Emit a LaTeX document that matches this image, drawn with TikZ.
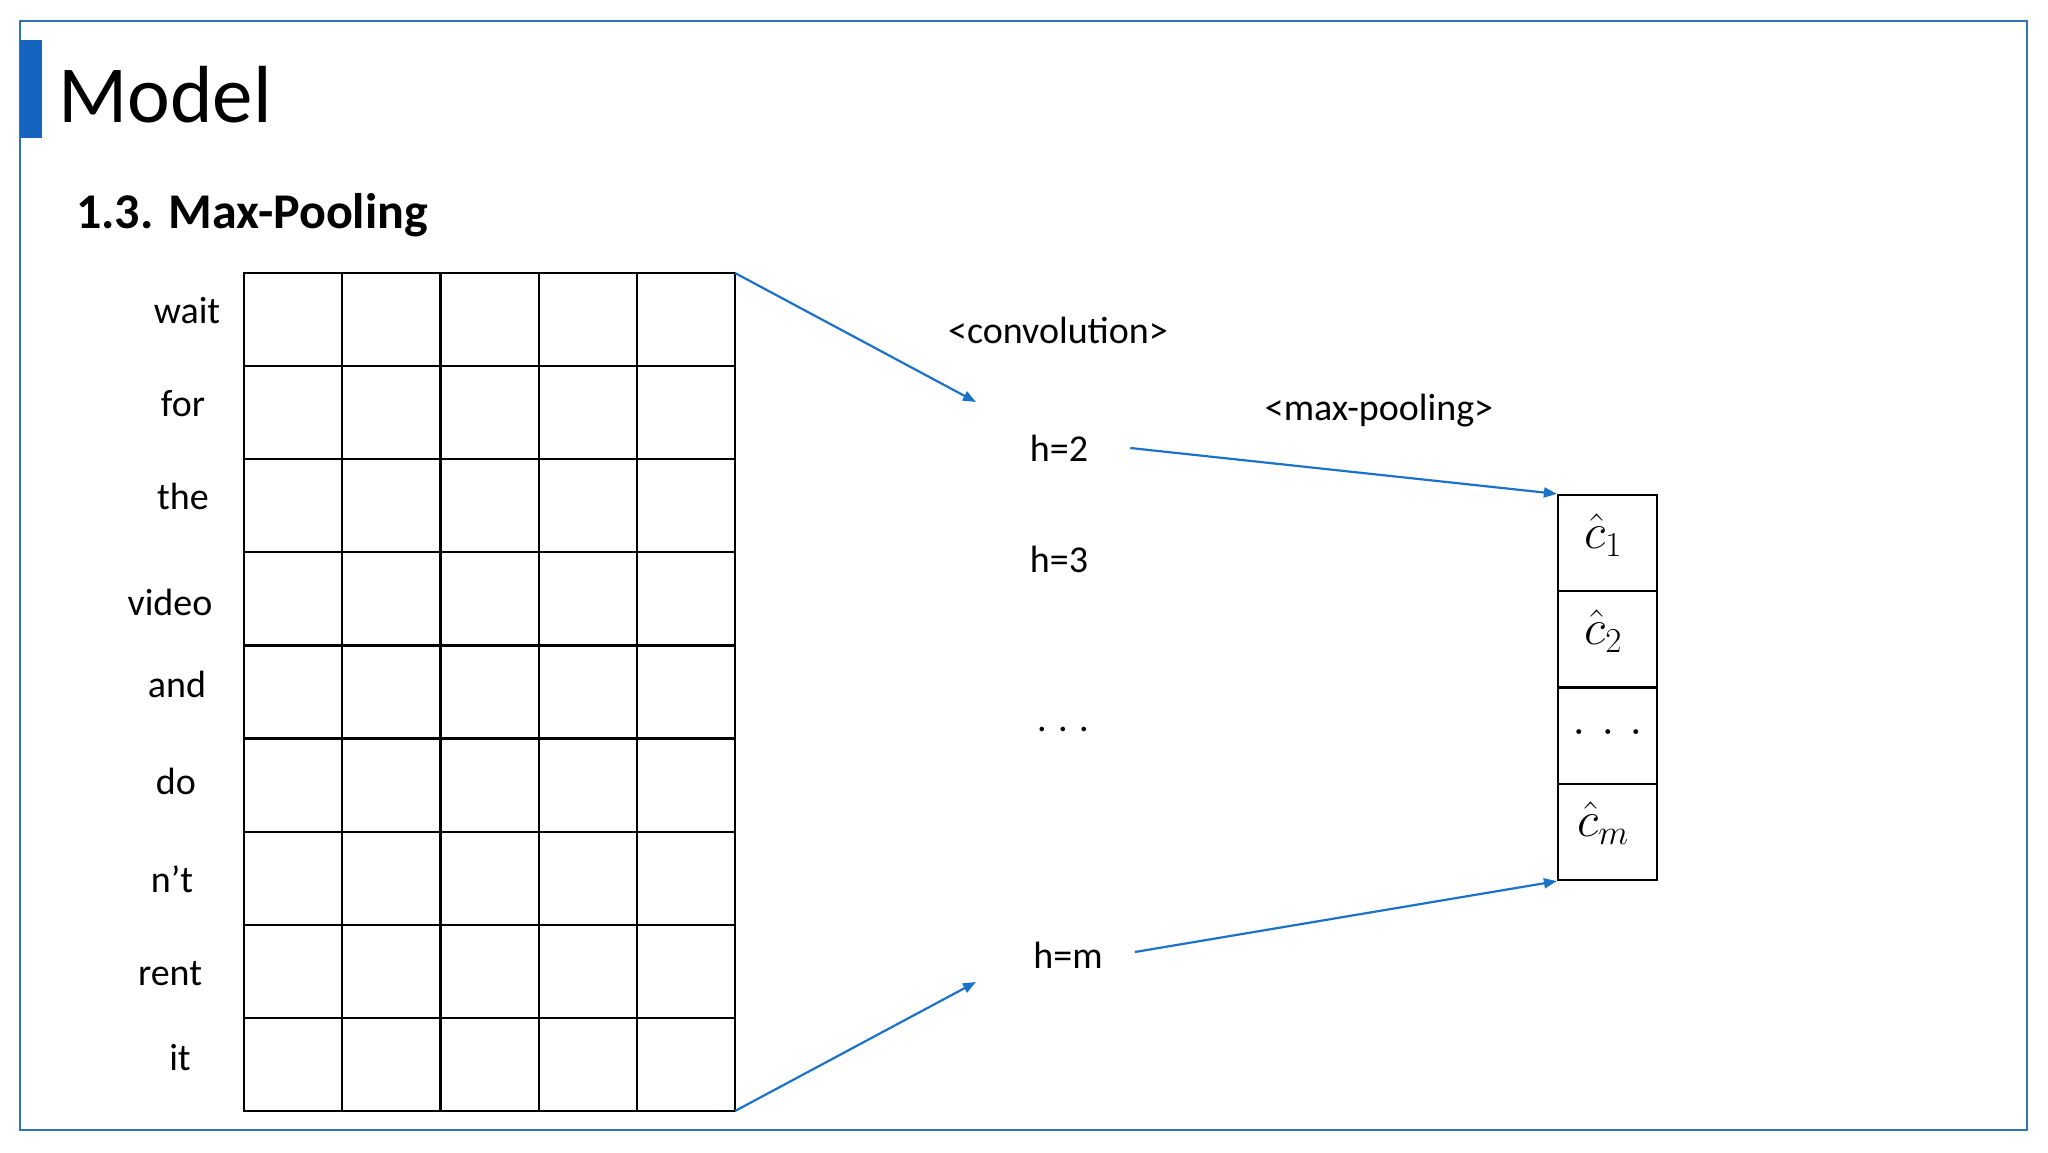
\documentclass[tikz,border=0pt]{standalone}
\usepackage{fix-cm}
\usepackage{amsmath}
\usepackage{fontspec}
\setmainfont{Carlito}
\usetikzlibrary{arrows.meta,calc}
\definecolor{frameblue}{RGB}{46,117,182}
\definecolor{barblue}{RGB}{21,101,192}
\definecolor{arrowblue}{RGB}{28,114,202}
\tikzset{
  word/.style={font=\fontsize{38}{46}\selectfont, inner sep=0pt},
  conn/.style={draw=arrowblue, line width=2.2pt, -{Triangle[length=13pt,width=10pt]}},
  cellbox/.style={draw=black, line width=2.2pt, minimum width=99pt, minimum height=96.25pt, inner sep=0pt},
  cellmath/.style={font=\fontsize{50}{60}\selectfont, inner sep=0pt},
  gridline/.style={draw=black, line width=2.2pt},
}
\begin{document}
\begin{tikzpicture}[x=1pt,y=-1pt]
\useasboundingbox (0,0) rectangle (2048,1152);
\fill[white] (0,0) rectangle (2048,1152);
\draw[frameblue, line width=2pt] (20,21) rectangle (2027,1130);
\fill[barblue] (20,40) rectangle (42,138);
\node[anchor=base west, font=\fontsize{81}{90}\selectfont, inner sep=0pt] (title) at (58,122) {Model};
\node[anchor=base west, font=\fontsize{50}{60}\selectfont\bfseries, inner sep=0pt] (sub) at (76,228) {1.3. Max-Pooling};
% embedding matrix
\node[gridline, minimum width=491pt, minimum height=838pt, inner sep=0pt, anchor=north west, outer sep=0pt] (grid) at (244,273) {};
\foreach \i in {1,...,4} {
  \draw[gridline] (244+\i*98.2,273) -- (244+\i*98.2,1111);
}
\foreach \j in {1,...,8} {
  \draw[gridline] (244,273+\j*93.11) -- (735,273+\j*93.11);
}
% words
\node[word] (w1) at (187,311) {wait};
\node[word] (w2) at (183,404) {for};
\node[word] (w3) at (183,496) {the};
\node[word] (w4) at (170,602) {video};
\node[word] (w5) at (177,684) {and};
\node[word] (w6) at (176,781) {do};
\node[word] (w7) at (172,879) {n’t};
\node[word] (w8) at (170,974) {rent};
\node[word] (w9) at (180,1058) {it};
% middle labels
\node[word] (conv) at (1058,330) {<convolution>};
\node[word] (maxp) at (1379,411) {<max-pooling>};
\node[word] (h2) at (1059,448) {h=2};
\node[word] (h3) at (1059,559) {h=3};
\node[word] (hdots) at (1063,729) {.\hspace{0.3em}.\hspace{0.3em}.};
\node[word] (hm) at (1068,955) {h=m};
% pooled vector
\node[cellbox] (c1) at (1607.5,543.1) {};
\node[cellbox] (c2) at (1607.5,639.4) {};
\node[cellbox] (c3) at (1607.5,735.6) {};
\node[cellbox] (c4) at (1607.5,831.9) {};
\node[cellmath] (l1) at (1603,535) {$\hat{c}_1$};
\node[cellmath] (l2) at (1603,631) {$\hat{c}_2$};
\node[cellmath] (l3) at (1608,732) {$\mathbf{.\hspace{0.3em}.\hspace{0.3em}.}$};
\node[cellmath] (l4) at (1603,823) {$\hat{c}_m$};
% connectors
\coordinate (convtop) at (976,402);
\coordinate (convbot) at (976,982);
\draw[conn] (grid.north east) -- (convtop);
\draw[conn] (grid.south east) -- (convbot);
\draw[conn] ([xshift=42pt]h2.east) -- (c1.north west);
\draw[conn] ([xshift=32pt,yshift=3pt]hm.east) -- (c4.south west);
\end{tikzpicture}
\end{document}
